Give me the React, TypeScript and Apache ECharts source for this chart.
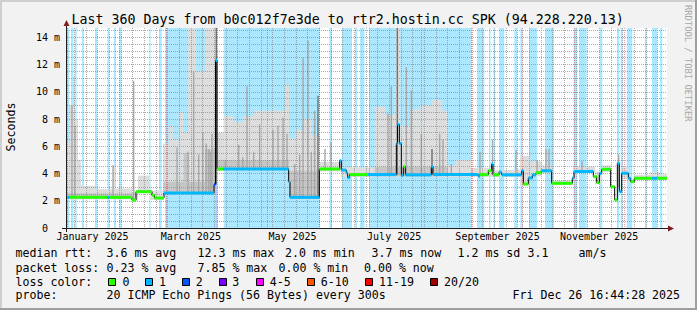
import React, { useEffect, useRef } from 'react';
import * as echarts from 'echarts';

// ---------- data (x values are days since the start of the 360-day window) ----------
const Y_MAX = 14.68;
const DAYS = 360;

const monthLabels = ['January 2025', 'March 2025', 'May 2025', 'July 2025', 'September 2025', 'November 2025'];
const monthLabelDays = [15.3, 74.3, 135.3, 196.3, 258.3, 319.3];
const monthStartDays = [0.3, 31.3, 59.3, 90.3, 120.3, 151.3, 181.3, 212.3, 243.3, 273.3, 304.3, 334.3];
const yMajorTicks = [0, 2, 4, 6, 8, 10, 12, 14];

const lossColors = ['#26ff00', '#00b8ff', '#0059ff', '#7e00ff', '#ff00ff', '#ff5500', '#ff0000', '#a10000'];
const lossLabels = ['0', '1', '2', '3', '4-5', '6-10', '11-19', '20/20'];

// [startDay, endDay, lossColorIndex]
const lossBands = [
  [0, 1.4, 1], [2.4, 3.8, 1], [4.6, 5.8, 1], [9, 10.2, 1], [16.8, 18, 1], [24.2, 25.4, 1], [28.2, 29.4, 1],
  [31.4, 32.6, 1], [49.4, 50.2, 1], [55.2, 56.8, 1], [58.8, 89.1, 1], [89.1, 90.2, 2], [94, 151.6, 1],
  [157.5, 159, 1], [165, 171, 1], [172.8, 174, 1], [175.8, 178.5, 1], [181.2, 242.7, 1], [246, 250.4, 1],
  [253.2, 254.1, 1], [255.9, 256.8, 1], [259.2, 262.4, 1], [268.4, 270, 1], [272, 273.4, 1], [277.2, 282, 1],
  [286.8, 292.2, 1], [304, 306, 1], [307.2, 311.8, 1], [319.8, 321.2, 1], [330, 331.2, 1], [332.2, 333.4, 1],
  [335.8, 339.2, 1], [346.8, 347.8, 1], [351, 354, 1], [355.8, 357.2, 1],
];

// smoke envelope: [startDay, endDay, low ms, high ms]
const smokeEnvelope = [
  [0, 1.2, 2.1, 6.3], [1.2, 3.6, 2.1, 9.0], [3.6, 5.4, 2.1, 11.1], [5.4, 6.6, 2.1, 8.0], [6.6, 8.4, 2.1, 5.0],
  [8.4, 16.8, 2.1, 3.1], [16.8, 27.6, 2.1, 2.85], [27.6, 28.8, 2.1, 4.6], [28.8, 39, 2.1, 2.9], [39, 42.6, 1.95, 2.6],
  [42.6, 49.8, 2.55, 3.85], [49.8, 57.6, 2.05, 2.75],
  [57.6, 61, 2.45, 6.2], [61, 64, 2.45, 7.5], [64, 67, 2.45, 6.5], [67, 70, 2.45, 8.5], [70, 72.6, 2.45, 7.0],
  [72.6, 77.4, 2.45, 14.68], [77.4, 82.8, 2.45, 11.5], [82.8, 89.4, 2.45, 14.68],
  [90.6, 94.2, 4.2, 7.0], [94.2, 100, 4.2, 8.2], [100, 106, 4.2, 7.8], [106, 112, 4.2, 8.2], [112, 117, 4.2, 8.6],
  [117, 130.8, 4.2, 8.6], [130.8, 133.2, 4.2, 10.5],
  [133.2, 137, 2.1, 6.6], [137, 142, 2.1, 7.2], [142, 147, 2.1, 8.0], [147, 151.4, 2.1, 6.8],
  [151.6, 164.4, 4.15, 4.85], [164.4, 184.6, 3.75, 4.45], [184.6, 191, 3.75, 8.9], [191, 197, 3.75, 8.3],
  [197, 200, 3.75, 14.68], [200, 206, 3.75, 7.5], [206, 212, 3.75, 8.7], [212, 219, 3.75, 9.0], [219, 225, 3.75, 9.4],
  [225, 228.6, 3.75, 8.6], [228.6, 232.8, 3.75, 4.6], [232.8, 242.4, 3.75, 5.0], [242.4, 253.8, 3.75, 4.4],
  [253.8, 256.2, 3.75, 4.7], [256.2, 268.8, 3.75, 4.25], [268.8, 271.8, 3.75, 4.3],
  [271.8, 278, 3.1, 5.3], [278, 284.8, 3.8, 4.9], [284.8, 290.8, 4.0, 4.6], [290.8, 303.6, 3.15, 3.5],
  [303.6, 316.8, 4.05, 4.5], [316.8, 320.8, 3.2, 4.15], [320.8, 326.8, 4.1, 4.6], [332.8, 336.8, 3.6, 4.45],
  [336.8, 340.4, 3.35, 3.6], [340.4, 349.8, 3.55, 3.9], [349.8, 355.8, 3.55, 4.1], [355.8, 360, 3.55, 3.95],
];

// denser smoke: [startDay, endDay, low ms, high ms]
const smokeDense = [
  [0, 39, 2.15, 2.55], [57.6, 89.4, 2.5, 3.4], [70, 73, 2.5, 5.5], [82.8, 89.4, 2.5, 5.8],
  [90.6, 133.2, 4.25, 5.0], [133.2, 151.4, 2.15, 4.2], [184.6, 228.6, 3.8, 4.5],
];

// single-ping streaks: [day, low ms, high ms, shade (0 mid, 1 dark)]
const smokeStreaks = [
  [3, 2.2, 9.0, 0], [4.8, 2.2, 7.5, 0], [27.6, 2.2, 4.6, 0], [40, 2.1, 10.8, 0], [66, 2.6, 5.9, 0], [72.6, 2.6, 5.6, 0],
  [76, 2.6, 11.5, 0], [79, 2.6, 5.4, 0], [81.5, 2.6, 7.0, 0], [83.5, 2.6, 6.2, 0], [85, 2.6, 5.8, 0], [86, 2.6, 5.6, 0],
  [87, 2.6, 6.9, 0], [89.6, 3.2, 14.68, 1], [95, 4.3, 5.0, 0], [103, 4.3, 6.1, 0], [105.5, 4.3, 5.2, 0], [108, 4.3, 10.4, 0],
  [112, 4.3, 5.6, 0], [115.6, 4.3, 7.6, 0], [123.6, 4.3, 7.2, 0], [126.6, 4.3, 7.5, 0], [129.6, 4.3, 8.1, 0], [132, 4.3, 6.9, 0],
  [136.6, 2.2, 4.7, 0], [139.6, 2.2, 5.4, 0], [141.6, 2.2, 12.5, 0], [144.6, 2.2, 13.75, 0], [146.6, 2.2, 5.6, 0],
  [148.6, 2.2, 8.6, 0], [150.6, 2.2, 9.7, 1], [154.8, 4.3, 5.8, 0], [158.4, 4.3, 6.3, 0], [192.6, 3.9, 8.4, 0],
  [194.6, 3.9, 10.4, 0], [198.2, 3.9, 14.68, 1], [203.6, 3.9, 11.8, 0], [206.6, 3.9, 10.1, 0], [212.6, 3.9, 6.9, 0],
  [219, 3.9, 5.8, 1], [223.6, 3.9, 6.9, 0], [225.6, 3.9, 6.5, 0], [230.6, 3.9, 4.7, 0], [247.8, 3.9, 5.6, 0],
  [255.3, 3.9, 6.5, 0], [269.4, 3.9, 5.7, 0], [282, 4.0, 5.0, 0], [287.4, 4.1, 5.8, 0], [289.2, 4.1, 5.8, 0],
  [309, 4.1, 4.9, 0], [331, 3.0, 5.4, 0],
];

// median rtt: [startDay, endDay, ms, lossColorIndex]
const medianSegments = [
  [0, 1.4, 2.25, 1], [1.4, 24.2, 2.25, 0], [24.2, 25.4, 2.25, 1], [25.4, 39, 2.25, 0], [39, 41.4, 2.05, 0],
  [41.4, 51, 2.67, 0], [51, 52.5, 2.4, 0], [52.5, 58.2, 2.2, 0], [58.2, 88.2, 2.57, 1], [88.2, 89.1, 3.2, 2],
  [89.1, 90, 12.3, 1], [90, 94, 4.33, 0], [94, 133, 4.33, 1], [133, 133.8, 3.4, 1], [133.8, 151.4, 2.25, 1],
  [151.4, 163.6, 4.33, 0], [163.6, 164.6, 4.94, 1], [164.6, 167.6, 4.25, 1], [167.6, 168.4, 4.05, 1],
  [168.4, 169.6, 3.7, 1], [169.6, 180.6, 3.92, 0], [180.6, 197.6, 3.92, 1], [197.6, 198.3, 6.2, 1],
  [198.3, 199.4, 7.6, 1], [199.4, 200.6, 6.2, 1], [200.6, 201.8, 3.85, 1], [201.8, 203, 4.5, 0],
  [203, 218.6, 3.9, 1], [218.6, 219.6, 4.5, 1], [219.6, 246.8, 3.92, 1], [246.8, 247.8, 3.8, 1],
  [247.8, 252.8, 3.92, 0], [252.8, 254.8, 4.2, 0], [254.8, 255.6, 4.7, 1], [255.6, 259.2, 3.9, 0],
  [259.2, 260.8, 4.1, 1], [260.8, 272.8, 3.9, 1], [272.8, 273.8, 4.2, 1], [273.8, 276.8, 3.23, 0],
  [276.8, 279.2, 3.67, 1], [279.2, 281.4, 3.9, 1], [281.4, 284.4, 4.06, 0], [284.4, 290.8, 4.2, 1],
  [290.8, 303.2, 3.28, 0], [303.2, 304.2, 3.67, 1], [304.2, 315.8, 4.15, 1], [315.8, 317.8, 3.77, 0],
  [317.8, 319.4, 3.34, 0], [319.4, 320.8, 4.0, 1], [320.8, 326.2, 4.31, 0], [326.2, 328.6, 3.03, 0],
  [328.6, 330.2, 2.06, 0], [330.2, 331.4, 4.75, 1], [331.4, 332.8, 2.67, 1], [332.8, 336.8, 4.02, 1],
  [336.8, 338.2, 3.65, 1], [338.2, 340.4, 3.4, 0], [340.4, 351, 3.65, 0],
  [351, 354, 3.65, 1], [354, 360, 3.65, 0],
];

const statRows = [
  ['median rtt:', '3.6 ms avg', '12.3 ms max', '2.0 ms min', '3.7 ms now', '1.2 ms sd', '3.1', 'am/s'],
  ['packet loss:', '0.23 % avg', '7.85 % max', '0.00 % min', '0.00 % now'],
];
const probeText = ['probe:', '20 ICMP Echo Pings (56 Bytes) every 300s', 'Fri Dec 26 16:44:28 2025'];
const titleText = 'Last 360 Days from b0c012f7e3de to rtr2.hostin.cc SPK (94.228.220.13)';

// ---------- layout ----------
const FONT = "'DejaVu Sans Mono', monospace";
const statX = [
  [15.5, 106.5, 197.5, 285, 371.5, 457.5, 527.5, 578.5],
  [15.5, 106.5, 197.5, 278.5, 364],
];
const rowY = [253.2, 267.6, 281.6, 295.2];
const boxX = [108.5, 145.5, 182.5, 219.5, 256.5, 307.5, 365.5, 430.5];
const lossLabelX = [122.5, 159, 195.7, 232.3, 269.7, 320.7, 379, 444];
const probeX = [15.5, 106.5, 512.5];

function hexA(hex: string, a: number) {
  const n = parseInt(hex.slice(1), 16);
  return `rgba(${(n >> 16) & 255},${(n >> 8) & 255},${n & 255},${a})`;
}

function clip(rect: any, cs: any) {
  return echarts.graphic.clipRectByRect(rect, { x: cs.x, y: cs.y, width: cs.width, height: cs.height });
}

function rangeRender(color: string) {
  return (params: any, api: any) => {
    const a = api.coord([api.value(0), api.value(3)]);
    const b = api.coord([api.value(1), api.value(2)]);
    const shape = clip({ x: a[0], y: a[1], width: b[0] - a[0], height: b[1] - a[1] }, params.coordSys);
    return shape ? { type: 'rect', shape, style: { fill: color } } : null;
  };
}

export default function App() {
  const ref = useRef<HTMLDivElement>(null);
  useEffect(() => {
    document.body.style.margin = '0';
    const chart = echarts.init(ref.current!, null, { renderer: 'svg' });

    const yMinor: number[] = [];
    for (let v = 0.5; v < Y_MAX; v += 0.5) if (v % 2 !== 0) yMinor.push(v);
    const weekDays: number[] = [];
    for (let d = 4.3; d < DAYS; d += 7) weekDays.push(Math.round(d * 10) / 10);

    const medianLine: number[][] = [];
    medianSegments.forEach(([a, b, v]) => { medianLine.push([a, v], [b, v]); });

    const text = (t: string, x: number, y: number, size: number, extra: any = {}) => ({
      type: 'text', x, y, z: 20, silent: true,
      style: { text: t, fill: '#000', fontSize: size, fontFamily: FONT, align: 'left', verticalAlign: 'middle', ...extra },
    });

    const graphics: any[] = [
      { type: 'rect', shape: { x: 0, y: 0, width: 697, height: 2 }, style: { fill: '#cfcfcf' }, z: 20 },
      { type: 'rect', shape: { x: 0, y: 0, width: 2, height: 310 }, style: { fill: '#cfcfcf' }, z: 20 },
      { type: 'rect', shape: { x: 0, y: 308, width: 697, height: 2 }, style: { fill: '#9e9e9e' }, z: 20 },
      { type: 'rect', shape: { x: 695, y: 0, width: 2, height: 310 }, style: { fill: '#9e9e9e' }, z: 20 },
      { type: 'line', shape: { x1: 62, y1: 228.5, x2: 669, y2: 228.5 }, style: { stroke: '#1f1f1f', lineWidth: 1 }, z: 20 },
      { type: 'line', shape: { x1: 66.5, y1: 232, x2: 66.5, y2: 25 }, style: { stroke: '#1f1f1f', lineWidth: 1 }, z: 20 },
      { type: 'polygon', shape: { points: [[668, 225.5], [674, 228.5], [668, 231.5]] }, style: { fill: '#801f1f' }, z: 21 },
      { type: 'polygon', shape: { points: [[63.5, 26], [66.5, 20], [69.5, 26]] }, style: { fill: '#801f1f' }, z: 21 },
      text(titleText, 71.5, 19, 13.3),
      { ...text('Seconds', 11, 127, 11.6, { align: 'center' }), rotation: Math.PI / 2 },
      { ...text('RRDTOOL / TOBI OETIKER', 688.3, 5, 8.8, { fill: '#a8a8a8' }), rotation: -Math.PI / 2 },
    ];

    statRows.forEach((row, r) => row.forEach((t, i) => graphics.push(text(t, statX[r][i], rowY[r], 11.6))));
    graphics.push(text('loss color:', 15.5, rowY[2], 11.6));
    lossLabels.forEach((l, i) => {
      graphics.push({ type: 'rect', z: 20, shape: { x: boxX[i], y: 278.5, width: 7, height: 7 }, style: { fill: lossColors[i], stroke: '#000', lineWidth: 1 } });
      graphics.push(text(l, lossLabelX[i], rowY[2], 11.6));
    });
    probeText.forEach((t, i) => graphics.push(text(t, probeX[i], rowY[3], 11.6)));

    const gridDash = [1, 1];
    const option: any = {
      animation: false,
      backgroundColor: '#f2f2f2',
      grid: { left: 67, right: 30, top: 28, bottom: 82, show: true, backgroundColor: '#ffffff', borderWidth: 0 },
      xAxis: [
        {
          type: 'value', min: 0, max: DAYS, z: 4,
          axisLine: { show: false },
          axisTick: { show: false, customValues: monthStartDays },
          axisLabel: {
            customValues: monthLabelDays, margin: 8.5, verticalAlign: 'middle',
            fontFamily: FONT, fontSize: 10, color: '#000',
            formatter: (v: number) => {
              let best = 0;
              monthLabelDays.forEach((d, i) => { if (Math.abs(d - v) < Math.abs(monthLabelDays[best] - v)) best = i; });
              return monthLabels[best];
            },
          },
          splitLine: { show: true, lineStyle: { color: 'rgba(222,79,79,0.6)', width: 1, type: gridDash } },
        },
        {
          type: 'value', min: 0, max: DAYS, z: 3, position: 'bottom',
          axisLine: { show: false }, axisLabel: { show: false },
          axisTick: { show: false, customValues: weekDays },
          splitLine: { show: true, lineStyle: { color: 'rgba(143,143,143,0.75)', width: 1, type: gridDash } },
        },
      ],
      yAxis: [
        {
          type: 'value', min: 0, max: Y_MAX, z: 4,
          axisLine: { show: false },
          axisTick: { show: false, customValues: yMajorTicks },
          axisLabel: {
            customValues: yMajorTicks, margin: 7, fontFamily: FONT, fontSize: 10, color: '#000',
            formatter: (v: number) => (v === 0 ? '{z|0}' : `${v} m`),
            rich: { z: { fontFamily: FONT, fontSize: 10, color: '#000', padding: [0, 12, 0, 0] } },
          },
          splitLine: { show: true, lineStyle: { color: 'rgba(222,79,79,0.6)', width: 1, type: gridDash } },
        },
        {
          type: 'value', min: 0, max: Y_MAX, z: 3, position: 'left',
          axisLine: { show: false }, axisLabel: { show: false },
          axisTick: { show: false, customValues: yMinor },
          splitLine: { show: true, lineStyle: { color: 'rgba(143,143,143,0.75)', width: 1, type: gridDash } },
        },
      ],
      series: [
        {
          type: 'custom', z: 1, silent: true, clip: true,
          data: lossBands.map(([a, b, c]) => [a, b, 0, Y_MAX, c]),
          encode: { x: [0, 1], y: [2, 3] },
          renderItem: (params: any, api: any) => {
            const a = api.coord([api.value(0), Y_MAX]);
            const b = api.coord([api.value(1), 0]);
            const shape = clip({ x: a[0], y: a[1], width: b[0] - a[0], height: b[1] - a[1] }, params.coordSys);
            return shape ? { type: 'rect', shape, style: { fill: hexA(lossColors[api.value(4)], 0.33) } } : null;
          },
        },
        {
          type: 'custom', z: 1, silent: true, clip: true,
          data: smokeEnvelope, encode: { x: [0, 1], y: [2, 3] },
          renderItem: rangeRender('#dddddd'),
        },
        {
          type: 'custom', z: 1, silent: true, clip: true,
          data: smokeDense, encode: { x: [0, 1], y: [2, 3] },
          renderItem: rangeRender('#c6c6c6'),
        },
        {
          type: 'custom', z: 1, silent: true, clip: true,
          data: smokeStreaks, encode: { x: 0, y: [1, 2] },
          renderItem: (params: any, api: any) => {
            const top = api.coord([api.value(0), api.value(2)]);
            const bot = api.coord([api.value(0), api.value(1)]);
            const shape = clip({ x: top[0] - 0.7, y: top[1], width: 1.4, height: bot[1] - top[1] }, params.coordSys);
            return shape ? { type: 'rect', shape, style: { fill: api.value(3) ? '#6e6e6e' : '#a8a8a8' } } : null;
          },
        },
        {
          type: 'line', z: 5, silent: true, symbol: 'none', data: medianLine,
          lineStyle: { color: '#000', width: 1 },
        },
        {
          type: 'custom', z: 6, silent: true, clip: true,
          data: medianSegments, encode: { x: [0, 1], y: 2 },
          renderItem: (params: any, api: any) => {
            const a = api.coord([api.value(0), api.value(2)]);
            const b = api.coord([api.value(1), api.value(2)]);
            const shape = clip({ x: a[0], y: a[1] - 1.5, width: b[0] - a[0], height: 3 }, params.coordSys);
            return shape ? { type: 'rect', shape, style: { fill: lossColors[api.value(3)] } } : null;
          },
        },
      ],
      graphic: graphics,
    };
    chart.setOption(option);
    return () => chart.dispose();
  }, []);

  return <div ref={ref} style={{ position: 'fixed', left: 0, top: 0, width: 697, height: 310 }} />;
}
